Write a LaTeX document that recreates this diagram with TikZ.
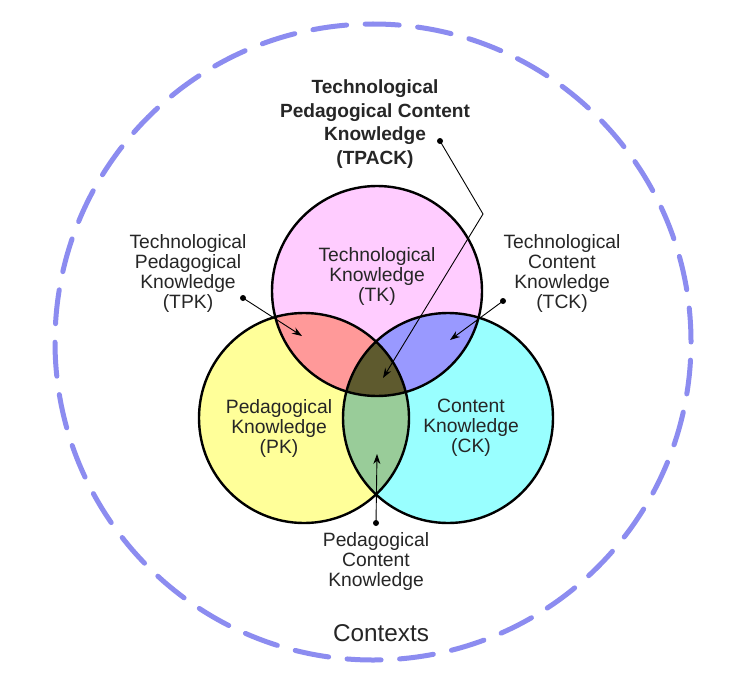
\documentclass[tikz,border=0pt]{standalone}
\usepackage{fontspec}
\setmainfont{Liberation Sans}
\usetikzlibrary{arrows.meta}
\definecolor{tkc}{RGB}{255,204,255}
\definecolor{pkc}{RGB}{255,255,153}
\definecolor{ckc}{RGB}{153,255,255}
\definecolor{tpkc}{RGB}{255,153,153}
\definecolor{tckc}{RGB}{153,153,255}
\definecolor{pckc}{RGB}{153,204,153}
\definecolor{tpackc}{RGB}{94,90,46}
\definecolor{ctxc}{RGB}{140,140,240}
\begin{document}
\begin{tikzpicture}[x=1pt,y=-1pt,
  lbl/.style={align=center,inner sep=0pt,font=\fontsize{19.3}{20}\selectfont,text=black!85},
  blbl/.style={align=center,inner sep=0pt,font=\fontsize{19.1}{23.5}\selectfont\bfseries,text=black!85},
  dotn/.style={circle,fill=black,inner sep=0pt,minimum size=6pt},
  ptr/.style={line width=0.9pt,-{Stealth[length=10pt,width=7pt]}},
  ring/.style={draw=black,line width=2.4pt},
]
\useasboundingbox (0,0) rectangle (751,674);
\fill[white] (0,0) rectangle (751,674);
\coordinate (oc) at (373,342);
\coordinate (tk) at (377,291);
\coordinate (pk) at (304,418);
\coordinate (ck) at (448,418);
% outer contexts ring
\draw[ctxc,line width=5pt,line cap=round,dash pattern=on 34pt off 18.6pt] (oc) circle[radius=318pt];
% base fills
\fill[tkc] (tk) circle[radius=105pt];
\fill[pkc] (pk) circle[radius=105pt];
\fill[ckc] (ck) circle[radius=105pt];
\begin{scope}
  \clip (tk) circle[radius=105pt];
  \fill[tpkc] (pk) circle[radius=105pt];
  \fill[tckc] (ck) circle[radius=105pt];
\end{scope}
\begin{scope}
  \clip (pk) circle[radius=105pt];
  \fill[pckc] (ck) circle[radius=105pt];
\end{scope}
\begin{scope}
  \clip (tk) circle[radius=105pt];
  \clip (pk) circle[radius=105pt];
  \fill[tpackc] (ck) circle[radius=105pt];
\end{scope}
\draw[ring] (tk) circle[radius=105pt];
\draw[ring] (pk) circle[radius=105pt];
\draw[ring] (ck) circle[radius=105pt];
% labels inside
\node[lbl] (tkl) at (377,277) {Technological\\Knowledge\\(TK)};
\node[lbl] (pkl) at (279,428) {Pedagogical\\Knowledge\\(PK)};
\node[lbl] (ckl) at (471,428) {Content\\Knowledge\\(CK)};
% outer labels
\node[blbl] (tpackl) at (375,124) {Technological\\Pedagogical Content\\Knowledge\\(TPACK)};
\node[lbl] (tpkl) at (188,274) {Technological\\Pedagogical\\Knowledge\\(TPK)};
\node[lbl] (tckl) at (562,274) {Technological\\Content\\Knowledge\\(TCK)};
\node[lbl] (pckl) at (376,562) {Pedagogical\\Content\\Knowledge};
\node[lbl,font=\fontsize{24.3}{26}\selectfont] (ctxl) at (381,633) {Contexts};
% pointers
\node[dotn] (tpackd) at (440,141) {};
\coordinate (tpackk) at (483,214);
\coordinate (tpackt) at (383,378);
\draw[ptr] (tpackd.center) -- (tpackk) -- (tpackt);
\node[dotn] (tpkd) at (243,298) {};
\coordinate (tpkt) at (302,336);
\draw[ptr] (tpkd.center) -- (tpkt);
\node[dotn] (tckd) at (503,301) {};
\coordinate (tckt) at (450,340);
\draw[ptr] (tckd.center) -- (tckt);
\node[dotn] (pckd) at (376,523) {};
\coordinate (pckt) at (377,454);
\draw[ptr] (pckd.center) -- (pckt);
\end{tikzpicture}
\end{document}
